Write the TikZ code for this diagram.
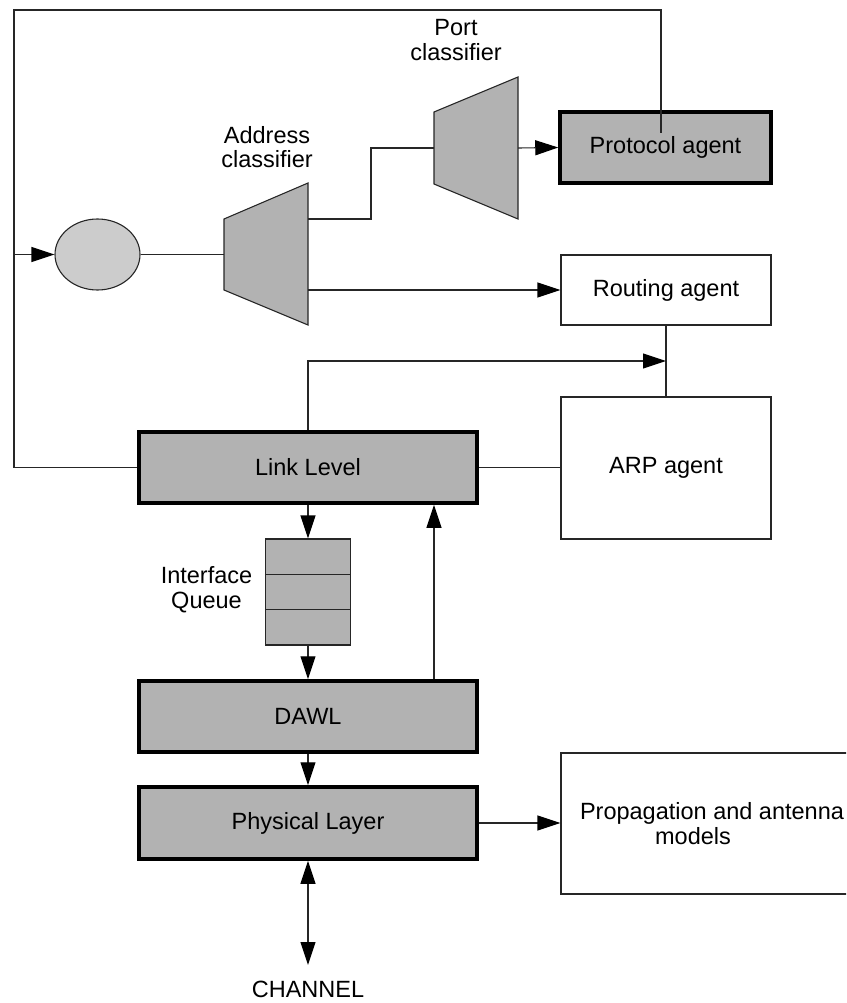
\documentclass[tikz,border=0pt]{standalone}
\usepackage{fontspec}
\setmainfont{Liberation Sans}
\usetikzlibrary{arrows.meta,calc,shapes.geometric}

\definecolor{boxgray}{HTML}{B2B2B2}
\definecolor{buffergray}{HTML}{CCCCCC}
\definecolor{linegray}{HTML}{262626}

\begin{document}
\begin{tikzpicture}[x=1pt,y=-1pt,
  font=\fontsize{23.5}{24.5}\selectfont,
  tip/.tip={Triangle[length=23pt,width=15pt,color=black]},
  wire/.style={draw=linegray,line width=1.1pt},
  flow/.style={wire,-tip},
  biflow/.style={wire,tip-tip},
  layer/.style={draw=black,line width=3.5pt,fill=boxgray,inner sep=0pt},
  agent/.style={draw=linegray,line width=1.1pt,fill=white,inner sep=0pt},
  classifier/.style={draw=linegray,line width=1.1pt,fill=boxgray},
  caption/.style={align=center,inner sep=0pt}]

\clip (0,0) rectangle (846,1003);

% agents on the right
\node[layer,minimum width=211pt,minimum height=71pt] (proto) at (665.5,147.5) {Protocol agent};
\node[agent,minimum width=210pt,minimum height=70pt] (routing) at (666,290) {Routing agent};
\node[agent,minimum width=210pt,minimum height=142pt] (arp) at (666,468) {ARP agent};
\node[agent,minimum width=302pt,minimum height=141pt,align=center] (prop) at (712,823.5)
  {Propagation and antenna\\models\hspace*{38pt}};

% protocol stack
\node[layer,minimum width=338pt,minimum height=71pt] (ll) at (308,467.5) {Link Level};
\node[draw=linegray,line width=1.1pt,fill=boxgray,minimum width=85pt,minimum height=106pt,inner sep=0pt] (queue) at (308,592) {};
\draw[wire] ($(queue.north west)!1/3!(queue.south west)$) -- ($(queue.north east)!1/3!(queue.south east)$);
\draw[wire] ($(queue.north west)!2/3!(queue.south west)$) -- ($(queue.north east)!2/3!(queue.south east)$);
\node[layer,minimum width=338pt,minimum height=71pt] (dawl) at (308,716.5) {DAWL};
\node[layer,minimum width=338pt,minimum height=72pt] (phy) at (308,823) {Physical Layer};

% entry buffer and classifiers
\node[ellipse,draw=linegray,line width=1.1pt,fill=buffergray,minimum width=85pt,minimum height=71pt,inner sep=0pt] (buf) at (97.5,254.5) {};
\draw[classifier] (224,219) -- (308,183) -- (308,325) -- (224,290) -- cycle;
\draw[classifier] (434,112) -- (518,77) -- (518,219) -- (434,184) -- cycle;
\coordinate (acin) at (224,254.5);
\coordinate (acup) at (308,219);
\coordinate (acdown) at (308,290);
\coordinate (pcin) at (434,148);
\coordinate (pcout) at (518,148);

% labels
\node[caption] (aclabel) at (267,147) {Address\\classifier};
\node[caption] (pclabel) at (456,40) {Port\\classifier};
\node[caption] (qlabel) at (206.5,589.5) {Interface\\Queue};
\node[caption] (chan) at (308,989) {CHANNEL};

% free ends of connectors
\coordinate (railtop) at (14,10);
\coordinate (loopend) at (661,133);
\coordinate (tap) at (14,254.5);
\coordinate (join) at ($(routing.south)!0.5!(arp.north)$);
\coordinate (chanend) at (308,965);

% connectors
\draw[wire] (ll.west) -| (railtop) -| (loopend);
\draw[flow] (tap) -- (buf.west);
\draw[wire] (buf.east) -- (acin);
\draw[wire] (acup) -- ++(63,0) |- (pcin);
\draw[flow] (pcout) -- (proto.west);
\draw[flow] (acdown) -- (acdown -| routing.west);
\draw[wire] (routing.south) -- (arp.north);
\draw[flow] (ll.north) |- (join);
\draw[wire] (ll.east) -- (ll.east -| arp.west);
\draw[flow] (ll.south) -- (queue.north);
\draw[flow] (queue.south) -- (dawl.north);
\draw[flow] ($(dawl.north)+(126,0)$) -- ($(ll.south)+(126,0)$);
\draw[flow] (dawl.south) -- (phy.north);
\draw[flow] (phy.east) -- (phy.east -| prop.west);
\draw[biflow] (phy.south) -- (chanend);
\end{tikzpicture}
\end{document}
